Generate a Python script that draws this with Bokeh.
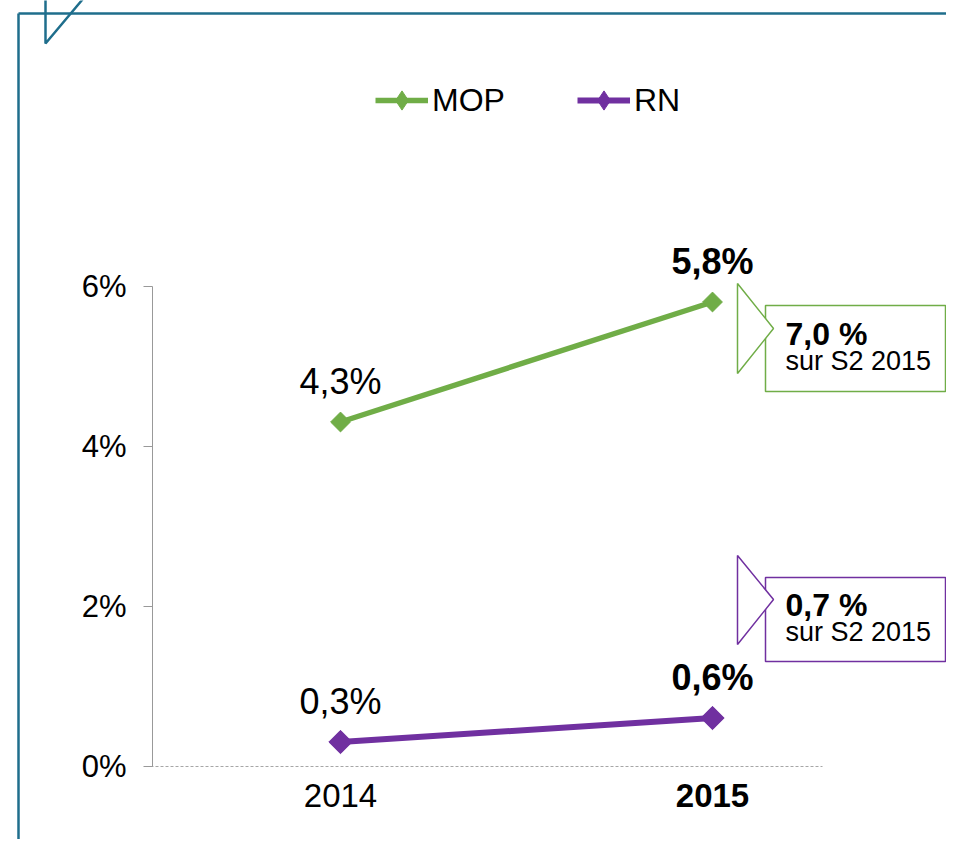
import math
from bokeh.plotting import figure
from bokeh.models import (Range1d, LinearAxis, FixedTicker, NumeralTickFormatter,
                          ColumnDataSource, Legend, LegendItem)
from bokeh.embed import file_html
from bokeh.resources import INLINE
from bokeh.core.properties import value

# ---------------- data ----------------
years = ["2014", "2015"]
mop = [0.043, 0.058]
rn = [0.003, 0.006]
mop_labels = ["4,3%", "5,8%"]
rn_labels = ["0,3%", "0,6%"]
y_ticks = [0, 0.02, 0.04, 0.06]
s2_mop_label = "7,0 %"
s2_rn_label = "0,7 %"
s2_note = "sur S2 2015"

# ---------------- style ----------------
GREEN = "#70ad47"
PURPLE = "#7030a0"
TEAL = "#1f6e8c"
FONT = "Liberation Sans"
W, H = 946, 839

# pixel layout helpers (canvas px -> data coordinates)
X0_PX, X_STEP = 340, 372
Y0_PX, Y_SCALE = 765.5, 8000.0


def xd(px):
    return (px - X0_PX) / X_STEP


def yd(py):
    return (Y0_PX - py) / Y_SCALE


p = figure(width=W, height=H, output_backend="svg", toolbar_location=None,
           x_range=Range1d(xd(0), xd(W)), y_range=Range1d(yd(H), yd(0)),
           x_axis_type=None, y_axis_type=None, min_border=0)
p.outline_line_color = None
p.background_fill_color = "white"

# ---------------- decorative frame ----------------
p.line([xd(18), xd(18)], [yd(13), yd(H)], line_color=TEAL, line_width=2.5)
p.line([xd(18), xd(W)], [yd(13), yd(13)], line_color=TEAL, line_width=2.5)
p.line([xd(45), xd(45), xd(82)], [yd(-1), yd(43), yd(-1)], line_color=TEAL, line_width=2.5)

# ---------------- axes ----------------
yax = LinearAxis(fixed_location=xd(152), bounds=(0, 0.06),
                 ticker=FixedTicker(ticks=y_ticks),
                 formatter=NumeralTickFormatter(format="0%"),
                 axis_line_color="#999999", axis_line_width=1,
                 major_tick_line_color="#999999", major_tick_out=9, major_tick_in=0,
                 minor_tick_line_color=None,
                 major_label_standoff=17,
                 major_label_text_font=FONT, major_label_text_font_size="31px",
                 major_label_text_color="black")
p.add_layout(yax, "left")

xs = list(range(len(years)))
for i, yr in enumerate(years):
    style = "bold" if i == len(years) - 1 else "normal"
    xax = LinearAxis(fixed_location=0, ticker=FixedTicker(ticks=[i]),
                     major_label_overrides={i: yr},
                     major_tick_line_color=None, minor_tick_line_color=None,
                     major_label_standoff=12,
                     major_label_text_font=FONT, major_label_text_font_size="33px",
                     major_label_text_font_style=style, major_label_text_color="black")
    if i == 0:
        xax.axis_line_color = "#a6a6a6"
        xax.axis_line_width = 1
        xax.axis_line_dash = "3 2"
        xax.bounds = (xd(145), xd(822))
    else:
        xax.axis_line_color = None
    p.add_layout(xax, "below")

# ---------------- series ----------------
styles = ["bold" if i == len(years) - 1 else "normal" for i in xs]
src_mop = ColumnDataSource(dict(x=xs, y=mop, label=mop_labels, style=styles))
src_rn = ColumnDataSource(dict(x=xs, y=rn, label=rn_labels, style=styles))

l_mop = p.line("x", "y", source=src_mop, line_color=GREEN, line_width=5.5)
m_mop = p.scatter("x", "y", source=src_mop, marker="square", angle=math.pi / 4,
                  size=14, fill_color=GREEN, line_color=GREEN)
l_rn = p.line("x", "y", source=src_rn, line_color=PURPLE, line_width=6)
m_rn = p.scatter("x", "y", source=src_rn, marker="square", angle=math.pi / 4,
                 size=16.5, fill_color=PURPLE, line_color=PURPLE)

# legend-only diamond glyphs (zero size on the plot; legend sizes them itself)
d_mop = p.scatter("x", "y", source=src_mop, marker="diamond", size=0,
                  fill_color=GREEN, line_color=GREEN)
d_rn = p.scatter("x", "y", source=src_rn, marker="diamond", size=0,
                 fill_color=PURPLE, line_color=PURPLE)

for src in (src_mop, src_rn):
    p.text("x", "y", text="label", source=src, text_font=value(FONT),
           text_font_size="36px", text_font_style="style", text_color="black",
           text_align="center", text_baseline="alphabetic", y_offset=-41)


# ---------------- S2 callouts ----------------
def callout(color, box_top, box_bottom, tri_top, tri_tip, tri_bottom, big, small,
            big_base, small_base):
    p.quad(left=xd(765), right=xd(945), top=yd(box_top), bottom=yd(box_bottom),
           fill_color="white", line_color=color, line_width=1.5)
    p.patch([xd(737), xd(773), xd(737)], [yd(tri_top), yd(tri_tip), yd(tri_bottom)],
            fill_color="white", line_color=color, line_width=1.5)
    p.text(x=[xd(785)], y=[yd(big_base)], text=[big], text_font=value(FONT),
           text_font_size="32px", text_font_style="bold", text_color="black",
           text_align="left", text_baseline="alphabetic")
    p.text(x=[xd(785)], y=[yd(small_base)], text=[small], text_font=value(FONT),
           text_font_size="27px", text_color="black",
           text_align="left", text_baseline="alphabetic")


callout(GREEN, 305, 391, 283, 328, 373, s2_mop_label, s2_note, 333, 360)
callout(PURPLE, 577, 661, 555, 599, 644, s2_rn_label, s2_note, 604, 631)

# ---------------- legend ----------------
legend = Legend(items=[LegendItem(label="MOP", renderers=[l_mop, d_mop]),
                       LegendItem(label="RN", renderers=[l_rn, d_rn])],
                orientation="horizontal", location=(375, 839 - 76 - 48),
                label_text_font=FONT, label_text_font_size="32px",
                label_text_color="black",
                glyph_width=53, glyph_height=48, label_standoff=4, spacing=72,
                padding=0, margin=0, border_line_color=None,
                background_fill_alpha=0)
p.add_layout(legend)

open("out.html", "w").write(file_html(p, INLINE))
